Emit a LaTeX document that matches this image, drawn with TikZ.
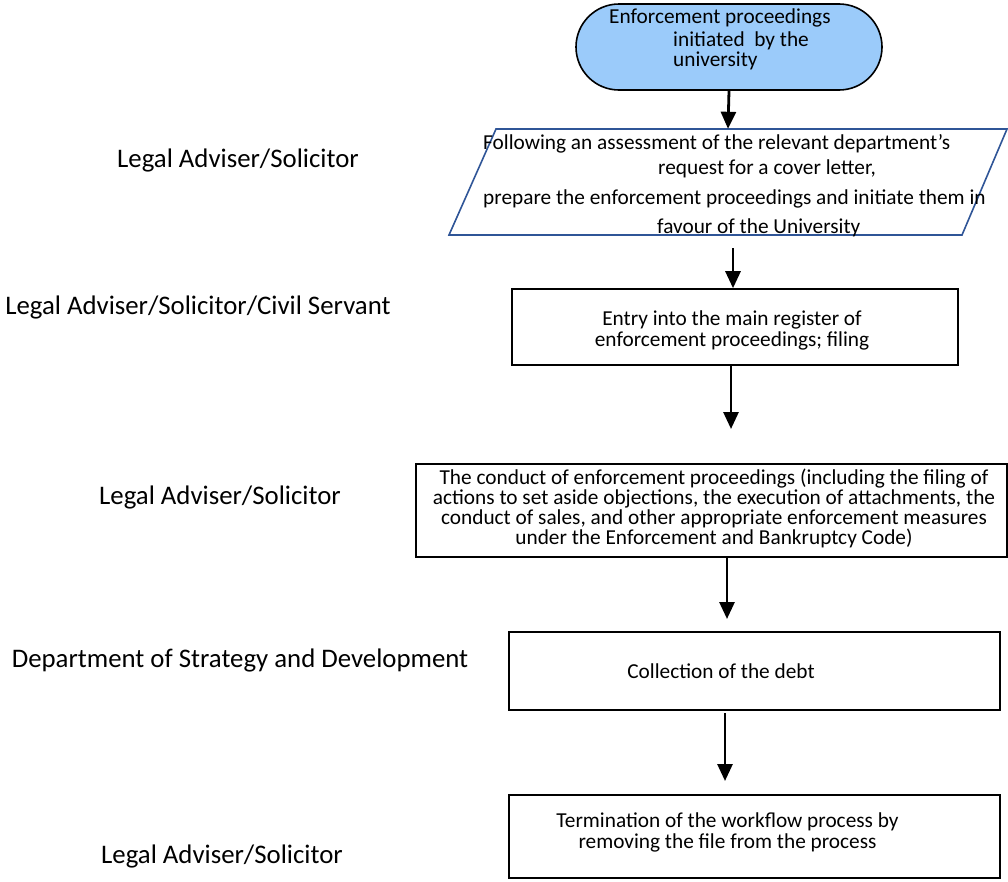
\documentclass[tikz,border=0pt]{standalone}
\usepackage{fontspec}
\setmainfont{Carlito}
\usetikzlibrary{arrows.meta}
\definecolor{termfill}{RGB}{155,203,250}
\definecolor{parablue}{RGB}{47,85,151}
\begin{document}
\begin{tikzpicture}[x=1pt,y=-1pt,
  boxtxt/.style={font=\fontsize{21.3}{21}\selectfont, inner sep=0pt},
  lbl/.style={font=\fontsize{26.8}{28}\selectfont, inner sep=0pt},
  procbox/.style={draw=black, line width=1.6pt, inner sep=0pt},
  arr/.style={line width=2.8pt, -{Triangle[length=17pt,width=15pt]}}]
\useasboundingbox (0,0) rectangle (1008,881);
% terminal
\node[draw=black, line width=1.6pt, fill=termfill, rounded corners=43pt,
      minimum width=306pt, minimum height=86pt, inner sep=0pt] (term) at (729,47) {};
\node[boxtxt, anchor=west] (t1) at (609,18) {Enforcement proceedings};
\node[boxtxt, anchor=west] (t2) at (673,41) {initiated\ \ by the};
\node[boxtxt, anchor=west] (t3) at (673,61) {university};
% parallelogram
\node[minimum width=466pt, minimum height=106pt, inner sep=0pt] (para) at (728,182) {};
\draw[parablue, line width=1.6pt] (496,129) -- (1007,129) -- (962,235) -- (449,235) -- cycle;
\node[boxtxt, anchor=west] (p1) at (483,144) {Following an assessment of the relevant department’s};
\node[boxtxt, anchor=west] (p2) at (658,169) {request for a cover letter,};
\node[boxtxt, anchor=west] (p3) at (483,199) {prepare the enforcement proceedings and initiate them in};
\node[boxtxt, anchor=west] (p4) at (657,228) {favour of the University};
% box 2
\node[procbox, minimum width=446pt, minimum height=76pt] (b2) at (735,327) {};
\node[boxtxt, align=center] (b2t) at (732,330) {Entry into the main register of\\enforcement proceedings; filing};
% box 3
\node[procbox, minimum width=591pt, minimum height=93pt] (b3) at (711.5,510.5) {};
\node[boxtxt, align=center, font=\fontsize{21.3}{20}\selectfont] (b3t) at (714,508) {The conduct of enforcement proceedings (including the filing of\\actions to set aside objections, the execution of attachments, the\\conduct of sales, and other appropriate enforcement measures\\under the Enforcement and Bankruptcy Code)};
% box 4
\node[procbox, minimum width=491pt, minimum height=78pt] (b4) at (754.5,671) {};
\node[boxtxt] (b4t) at (721,671) {Collection of the debt};
% box 5
\node[procbox, minimum width=491pt, minimum height=83pt] (b5) at (754.5,836.5) {};
\node[boxtxt, align=center] (b5t) at (727.5,832) {Termination of the workflow process by\\removing the file from the process};
% left labels
\node[lbl] (l1) at (238,160) {Legal Adviser/Solicitor};
\node[lbl] (l2) at (198,307) {Legal Adviser/Solicitor/Civil Servant};
\node[lbl] (l3) at (220,497) {Legal Adviser/Solicitor};
\node[lbl] (l4) at (240,660) {Department of Strategy and Development};
\node[lbl] (l5) at (222,856) {Legal Adviser/Solicitor};
% connector free ends
\coordinate (a2s) at (733,248);
\coordinate (a3e) at (731,429);
\coordinate (a4e) at (727,619);
\coordinate (a5s) at (725,713);
\coordinate (a5e) at (725,781);
% arrows
\draw[arr] (term.south) -- (para.north);
\draw[arr] (a2s) -- (a2s |- b2.north);
\draw[arr] (b2.south -| a3e) -- (a3e);
\draw[arr] (b3.south -| a4e) -- (a4e);
\draw[arr] (a5s) -- (a5e);
\end{tikzpicture}
\end{document}
